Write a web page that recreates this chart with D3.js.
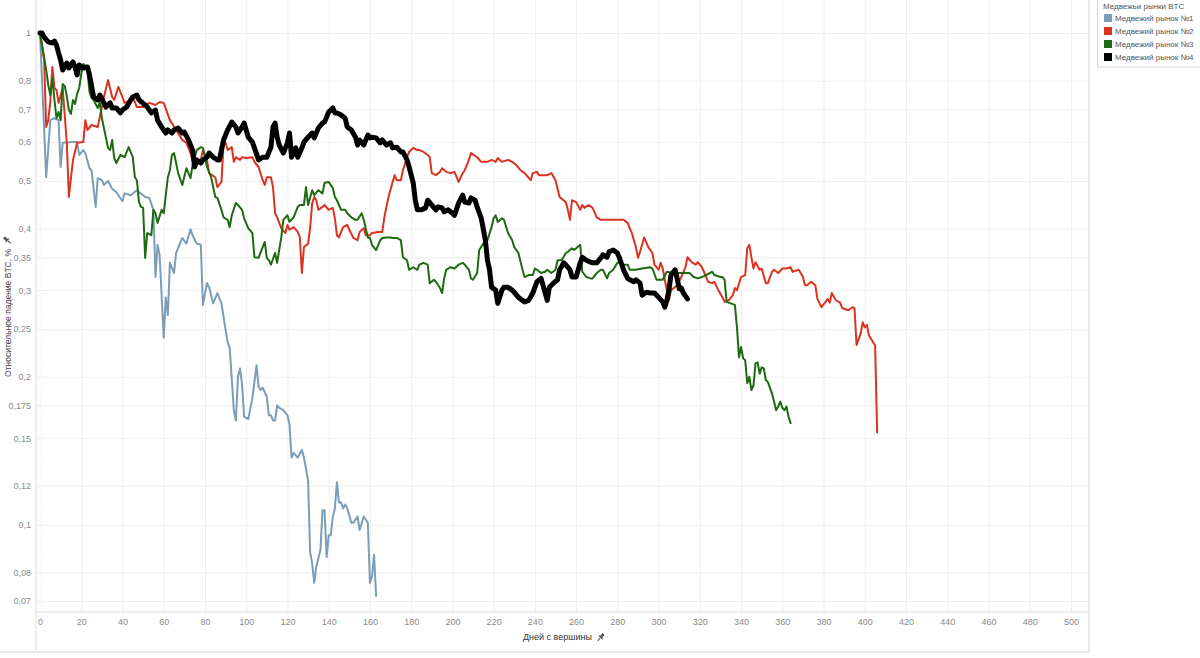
<!DOCTYPE html>
<html>
<head>
<meta charset="utf-8">
<script src="https://cdn.jsdelivr.net/npm/d3@7"></script>
<style>
  body { margin: 0; background: #fff; font-family: "Liberation Sans", Arial, sans-serif; }
  .axis text { fill: #8a8a8a; font-size: 9px; font-family: "Liberation Sans", Arial, sans-serif; }
  .axis line { stroke: #efefef; }
  .axis .domain { display: none; }
</style>
</head>
<body>
<svg id="chart" width="1200" height="658"></svg>
<script>
// days since the top / price relative to the top
const seriesNames = ["Медвежий рынок №1", "Медвежий рынок №2", "Медвежий рынок №3", "Медвежий рынок №4"];
const xTicks = d3.range(0, 501, 20);
const yTicks = [1, 0.8, 0.7, 0.6, 0.5, 0.4, 0.35, 0.3, 0.25, 0.2, 0.175, 0.15, 0.12, 0.1, 0.08, 0.07];

const bear1 = [[0,1],[3,0.509],[5,0.665],[7,0.671],[9,0.665],[10,0.534],[11,0.598],[16,0.6],[18,0.6],[19,0.565],[21,0.578],[22,0.57],[24,0.531],[25,0.526],[27,0.443],[28,0.507],[30,0.502],[31,0.491],[33,0.5],[35,0.482],[37,0.475],[40,0.455],[41,0.472],[44,0.468],[47,0.479],[48,0.475],[51,0.464],[53,0.462],[55,0.437],[56,0.319],[57,0.371],[58,0.354],[60,0.24],[61,0.29],[62,0.267],[63,0.341],[65,0.325],[66,0.357],[69,0.383],[71,0.373],[73,0.399],[74,0.388],[76,0.373],[78,0.371],[79,0.28],[81,0.31],[82,0.304],[84,0.282],[86,0.296],[88,0.282],[90,0.249],[91,0.235],[92,0.229],[94,0.171],[95,0.163],[96,0.2],[97,0.208],[98,0.193],[99,0.166],[101,0.164],[103,0.181],[105,0.211],[106,0.191],[107,0.188],[108,0.19],[110,0.182],[111,0.167],[112,0.167],[113,0.163],[114,0.163],[115,0.175],[116,0.173],[118,0.171],[120,0.167],[121,0.16],[122,0.137],[123,0.14],[125,0.137],[127,0.142],[128,0.137],[129,0.13],[130,0.123],[131,0.088],[132,0.0835],[133,0.0762],[134,0.0822],[136,0.0889],[137,0.107],[138,0.107],[139,0.086],[140,0.0952],[141,0.0952],[142,0.104],[143,0.108],[144,0.122],[145,0.111],[146,0.111],[147,0.108],[148,0.11],[149,0.108],[151,0.101],[152,0.101],[154,0.104],[155,0.0976],[157,0.104],[159,0.101],[160,0.0762],[161,0.0785],[162,0.0869],[163,0.0717]];

const bear2 = [[0,1],[2,0.881],[3,0.644],[4,0.665],[5,0.724],[6,0.853],[7,0.773],[8,0.766],[9,0.721],[11,0.773],[13,0.598],[14,0.464],[16,0.552],[18,0.598],[21,0.6],[22,0.665],[23,0.635],[25,0.65],[28,0.644],[29,0.675],[31,0.741],[33,0.802],[35,0.741],[36,0.731],[38,0.777],[40,0.741],[41,0.721],[44,0.731],[45,0.741],[47,0.707],[50,0.707],[53,0.721],[56,0.714],[58,0.724],[60,0.721],[63,0.665],[66,0.635],[69,0.606],[71,0.598],[73,0.57],[75,0.534],[78,0.552],[79,0.578],[81,0.552],[82,0.519],[85,0.509],[86,0.486],[88,0.498],[89,0.592],[90,0.598],[91,0.578],[93,0.586],[94,0.547],[95,0.559],[97,0.552],[98,0.559],[100,0.557],[103,0.559],[104,0.547],[106,0.534],[108,0.502],[109,0.491],[110,0.509],[112,0.509],[113,0.486],[114,0.43],[115,0.422],[117,0.401],[119,0.392],[120,0.407],[121,0.398],[123,0.403],[125,0.394],[126,0.384],[127,0.325],[128,0.367],[130,0.373],[131,0.401],[132,0.451],[133,0.464],[134,0.457],[135,0.437],[137,0.443],[138,0.447],[140,0.437],[142,0.441],[143,0.42],[144,0.388],[145,0.384],[147,0.403],[149,0.407],[150,0.398],[152,0.383],[154,0.379],[155,0.394],[157,0.401],[158,0.388],[160,0.388],[161,0.392],[164,0.394],[166,0.394],[167,0.422],[169,0.464],[171,0.498],[172,0.514],[173,0.502],[175,0.502],[176,0.526],[178,0.559],[179,0.573],[181,0.584],[183,0.578],[184,0.578],[186,0.573],[188,0.565],[189,0.559],[190,0.519],[192,0.514],[194,0.522],[195,0.531],[197,0.522],[199,0.519],[201,0.522],[203,0.498],[205,0.519],[206,0.526],[208,0.552],[209,0.57],[212,0.559],[214,0.547],[217,0.547],[219,0.552],[221,0.547],[222,0.557],[224,0.547],[227,0.552],[229,0.547],[231,0.539],[233,0.526],[235,0.519],[238,0.502],[239,0.519],[241,0.522],[242,0.514],[246,0.514],[248,0.519],[250,0.502],[252,0.464],[255,0.453],[256,0.437],[257,0.417],[258,0.457],[260,0.453],[262,0.437],[263,0.447],[264,0.441],[266,0.447],[268,0.441],[270,0.422],[272,0.417],[276,0.417],[283,0.417],[285,0.411],[287,0.392],[289,0.367],[290,0.349],[291,0.359],[293,0.384],[295,0.367],[297,0.357],[298,0.338],[300,0.33],[301,0.341],[302,0.332],[303,0.315],[305,0.286],[306,0.3],[309,0.307],[311,0.319],[313,0.334],[314,0.35],[316,0.342],[318,0.338],[319,0.342],[321,0.334],[322,0.327],[324,0.312],[326,0.31],[327,0.312],[329,0.3],[331,0.29],[332,0.284],[334,0.286],[336,0.293],[337,0.303],[338,0.3],[340,0.319],[342,0.322],[343,0.365],[344,0.371],[345,0.35],[346,0.332],[347,0.342],[349,0.33],[350,0.332],[352,0.31],[353,0.31],[355,0.327],[356,0.33],[358,0.325],[360,0.332],[362,0.332],[364,0.334],[365,0.327],[368,0.33],[370,0.319],[371,0.307],[372,0.307],[374,0.312],[376,0.307],[377,0.288],[379,0.277],[381,0.284],[382,0.288],[383,0.283],[384,0.296],[386,0.286],[388,0.283],[389,0.276],[392,0.273],[394,0.277],[395,0.276],[396,0.232],[398,0.245],[399,0.258],[400,0.252],[401,0.255],[402,0.243],[404,0.235],[405,0.232],[406,0.154]];

const bear3 = [[0,1],[1,0.945],[3,0.841],[4,0.784],[5,0.748],[6,0.81],[7,0.731],[8,0.671],[9,0.691],[10,0.665],[11,0.788],[12,0.78],[13,0.745],[14,0.697],[15,0.685],[16,0.731],[17,0.717],[18,0.752],[19,0.773],[20,0.825],[21,0.865],[22,0.857],[23,0.841],[24,0.759],[25,0.738],[26,0.731],[27,0.717],[28,0.704],[29,0.724],[30,0.671],[32,0.612],[33,0.584],[34,0.578],[35,0.606],[36,0.557],[37,0.544],[39,0.565],[41,0.559],[43,0.586],[45,0.559],[46,0.509],[47,0.502],[48,0.453],[49,0.443],[50,0.441],[51,0.349],[52,0.392],[54,0.388],[55,0.437],[56,0.43],[57,0.411],[59,0.437],[60,0.43],[62,0.509],[63,0.526],[64,0.565],[65,0.57],[66,0.544],[67,0.519],[69,0.491],[71,0.531],[73,0.507],[74,0.539],[76,0.578],[78,0.586],[79,0.584],[80,0.559],[81,0.534],[83,0.509],[85,0.464],[86,0.462],[88,0.437],[89,0.422],[91,0.417],[92,0.403],[93,0.426],[95,0.451],[96,0.447],[98,0.437],[99,0.42],[101,0.401],[103,0.392],[104,0.35],[106,0.349],[108,0.367],[109,0.376],[110,0.349],[111,0.345],[112,0.338],[114,0.357],[115,0.341],[117,0.384],[118,0.417],[120,0.426],[121,0.413],[123,0.422],[125,0.443],[126,0.447],[128,0.447],[129,0.486],[130,0.447],[132,0.479],[133,0.468],[135,0.479],[137,0.472],[138,0.496],[140,0.498],[142,0.484],[143,0.464],[144,0.457],[146,0.437],[148,0.437],[149,0.43],[151,0.422],[153,0.417],[154,0.417],[156,0.43],[157,0.417],[159,0.384],[160,0.383],[161,0.371],[163,0.362],[165,0.379],[166,0.383],[168,0.384],[170,0.384],[171,0.383],[173,0.383],[175,0.379],[176,0.35],[178,0.345],[179,0.33],[181,0.334],[183,0.33],[184,0.338],[186,0.341],[188,0.338],[189,0.31],[191,0.315],[192,0.312],[194,0.303],[195,0.296],[196,0.317],[197,0.33],[199,0.334],[201,0.332],[203,0.338],[205,0.341],[206,0.338],[208,0.33],[209,0.317],[210,0.315],[212,0.325],[213,0.362],[215,0.373],[217,0.379],[219,0.403],[220,0.42],[221,0.426],[222,0.413],[224,0.42],[225,0.417],[227,0.392],[229,0.379],[230,0.367],[232,0.357],[234,0.33],[235,0.319],[237,0.322],[239,0.322],[240,0.332],[241,0.33],[243,0.325],[245,0.327],[246,0.33],[248,0.325],[250,0.33],[251,0.345],[253,0.345],[255,0.357],[256,0.359],[258,0.365],[259,0.362],[262,0.371],[263,0.327],[265,0.319],[267,0.317],[268,0.317],[270,0.325],[272,0.33],[273,0.33],[275,0.317],[276,0.325],[278,0.33],[280,0.341],[281,0.341],[283,0.338],[285,0.338],[286,0.33],[289,0.33],[292,0.332],[296,0.334],[297,0.332],[299,0.315],[302,0.315],[304,0.327],[307,0.325],[315,0.325],[317,0.319],[319,0.317],[321,0.319],[323,0.322],[326,0.327],[327,0.322],[330,0.319],[331,0.319],[332,0.315],[333,0.284],[335,0.282],[337,0.28],[338,0.252],[339,0.219],[340,0.23],[341,0.218],[342,0.216],[343,0.194],[344,0.2],[345,0.188],[346,0.192],[347,0.213],[348,0.214],[349,0.203],[350,0.209],[351,0.208],[352,0.197],[353,0.195],[355,0.185],[356,0.178],[357,0.171],[358,0.174],[359,0.178],[360,0.173],[361,0.171],[362,0.174],[363,0.166],[364,0.161]];

const bear4 = [[0,1],[1,1],[2,0.981],[4,0.959],[6,0.954],[7,0.963],[8,0.945],[9,0.911],[10,0.881],[11,0.841],[12,0.853],[13,0.869],[14,0.849],[16,0.873],[17,0.853],[18,0.822],[19,0.861],[21,0.849],[23,0.853],[24,0.822],[26,0.741],[28,0.731],[29,0.748],[31,0.721],[32,0.707],[34,0.721],[35,0.704],[37,0.704],[39,0.688],[40,0.697],[42,0.707],[44,0.731],[45,0.741],[47,0.748],[48,0.731],[51,0.714],[52,0.707],[54,0.688],[56,0.697],[57,0.665],[59,0.644],[61,0.626],[62,0.635],[64,0.626],[65,0.635],[67,0.641],[69,0.626],[70,0.629],[72,0.606],[74,0.578],[75,0.534],[76,0.552],[78,0.544],[79,0.552],[81,0.559],[82,0.57],[84,0.559],[86,0.552],[87,0.552],[89,0.606],[91,0.635],[93,0.659],[95,0.644],[96,0.626],[98,0.644],[99,0.656],[101,0.614],[103,0.6],[104,0.584],[106,0.552],[108,0.559],[110,0.559],[112,0.586],[113,0.644],[114,0.656],[115,0.614],[116,0.592],[118,0.57],[120,0.598],[121,0.626],[122,0.559],[124,0.584],[125,0.559],[127,0.584],[128,0.6],[130,0.614],[132,0.626],[133,0.612],[135,0.641],[137,0.656],[138,0.659],[140,0.691],[142,0.704],[143,0.688],[144,0.688],[146,0.681],[148,0.671],[149,0.644],[151,0.635],[153,0.614],[154,0.592],[155,0.606],[157,0.592],[159,0.62],[160,0.612],[161,0.614],[163,0.612],[165,0.598],[166,0.606],[168,0.592],[170,0.598],[171,0.584],[173,0.586],[175,0.573],[176,0.573],[178,0.552],[179,0.534],[181,0.496],[182,0.457],[183,0.437],[185,0.437],[187,0.441],[188,0.457],[190,0.447],[192,0.437],[193,0.443],[195,0.441],[196,0.433],[198,0.437],[200,0.43],[201,0.426],[203,0.451],[205,0.468],[206,0.453],[208,0.451],[209,0.462],[211,0.457],[212,0.443],[214,0.42],[216,0.379],[217,0.345],[218,0.33],[219,0.304],[221,0.3],[222,0.282],[224,0.3],[225,0.304],[227,0.304],[229,0.3],[230,0.297],[232,0.29],[234,0.286],[235,0.284],[237,0.286],[239,0.296],[240,0.304],[241,0.312],[243,0.317],[245,0.296],[246,0.286],[247,0.304],[249,0.31],[251,0.315],[252,0.33],[254,0.341],[256,0.334],[257,0.33],[258,0.319],[260,0.319],[262,0.341],[263,0.35],[265,0.345],[267,0.342],[268,0.341],[270,0.341],[272,0.349],[273,0.354],[275,0.35],[276,0.359],[278,0.362],[280,0.357],[281,0.349],[283,0.33],[285,0.317],[286,0.315],[288,0.312],[289,0.315],[291,0.31],[292,0.293],[294,0.297],[296,0.296],[298,0.296],[300,0.29],[302,0.284],[303,0.277],[304,0.286],[305,0.3],[306,0.322],[308,0.33],[309,0.317],[310,0.302],[311,0.303],[312,0.296],[314,0.288]];

const seriesData = [bear1, bear2, bear3, bear4];
const seriesColors = ["#7b9db7", "#db3320", "#1e6a10", "#000000"];
const seriesWidths = [2, 2, 2, 5];

const svg = d3.select("#chart");
const plotLeft = 36, plotRight = 1088, plotBottom = 612;

const x = d3.scaleLinear().domain([0, 500]).range([40, 1071]);
const y = d3.scaleLog().domain([1, 0.07]).range([33, 601]);
const fmt = d => String(d).replace(".", ",");

// frame lines
svg.append("line").attr("x1", plotLeft).attr("x2", plotLeft).attr("y1", 0).attr("y2", 650)
    .attr("stroke", "#dcdcdc");
svg.append("line").attr("x1", 1089).attr("x2", 1089).attr("y1", 0).attr("y2", 652)
    .attr("stroke", "#d6d6d6");
svg.append("line").attr("x1", 0).attr("x2", 1089).attr("y1", 652).attr("y2", 652)
    .attr("stroke", "#d6d6d6");

// Y axis + horizontal grid
const axisY = d3.axisLeft(y).tickValues(yTicks).tickFormat(fmt)
    .tickSize(-(plotRight - plotLeft)).tickPadding(5);
svg.append("g").attr("class", "axis axisY")
    .attr("transform", `translate(${plotLeft},0)`)
    .call(axisY);

// X axis + vertical grid
const axisX = d3.axisBottom(x).tickValues(xTicks).tickFormat(d3.format("d"))
    .tickSize(-plotBottom).tickPadding(7);
const axisXG = svg.append("g").attr("class", "axis axisX")
    .attr("transform", `translate(0,${plotBottom})`)
    .call(axisX);
axisXG.selectAll(".tick").filter(d => d === 0).select("line")
    .attr("stroke", "#c8c8c8").attr("stroke-dasharray", "1,2");

svg.append("line").attr("x1", plotLeft).attr("x2", 1089).attr("y1", plotBottom).attr("y2", plotBottom)
    .attr("stroke", "#dcdcdc");

// series lines
const lineGen = d3.line().x(d => x(d[0])).y(d => y(d[1]));
const lines = svg.append("g").attr("class", "lines");
seriesData.forEach((s, i) => {
    lines.append("path")
        .attr("d", lineGen(s))
        .attr("fill", "none")
        .attr("stroke", seriesColors[i])
        .attr("stroke-width", seriesWidths[i])
        .attr("stroke-linejoin", "round")
        .attr("stroke-linecap", "round");
});

// pin icon
function pin(gx, gy, rot) {
    const p = svg.append("g").attr("transform", `translate(${gx},${gy}) rotate(${rot})`);
    p.append("path").attr("d", "M-1.5,-4 L1.5,-4 L1.2,-1 L3,1 L-3,1 L-1.2,-1 Z").attr("fill", "#555");
    p.append("line").attr("x1", 0).attr("x2", 0).attr("y1", 1).attr("y2", 5)
        .attr("stroke", "#555").attr("stroke-width", 1.1);
}

// axis titles
svg.append("text")
    .attr("transform", "translate(11,249) rotate(-90)")
    .attr("text-anchor", "end")
    .attr("font-size", 8.5).attr("fill", "#444")
    .text("Относительное падение BTC, %");
pin(7, 240, -50);

svg.append("text")
    .attr("x", 592).attr("y", 640)
    .attr("text-anchor", "end")
    .attr("font-size", 9).attr("fill", "#333")
    .text("Дней с вершины");
pin(601, 637, 40);

// legend
const legend = svg.append("g").attr("class", "legend");
legend.append("rect").attr("x", 1097.5).attr("y", -1).attr("width", 110).attr("height", 68)
    .attr("fill", "none").attr("stroke", "#d6d6d6");
legend.append("text").attr("x", 1103).attr("y", 9)
    .attr("font-size", 8).attr("fill", "#555").text("Медвежьи рынки BTC");
seriesNames.forEach((n, i) => {
    legend.append("rect").attr("x", 1104).attr("y", 14 + i * 13).attr("width", 8).attr("height", 8)
        .attr("fill", seriesColors[i]);
    legend.append("text").attr("x", 1115).attr("y", 21 + i * 13)
        .attr("font-size", 8).attr("fill", "#555").text(n);
});
</script>
</body>
</html>
